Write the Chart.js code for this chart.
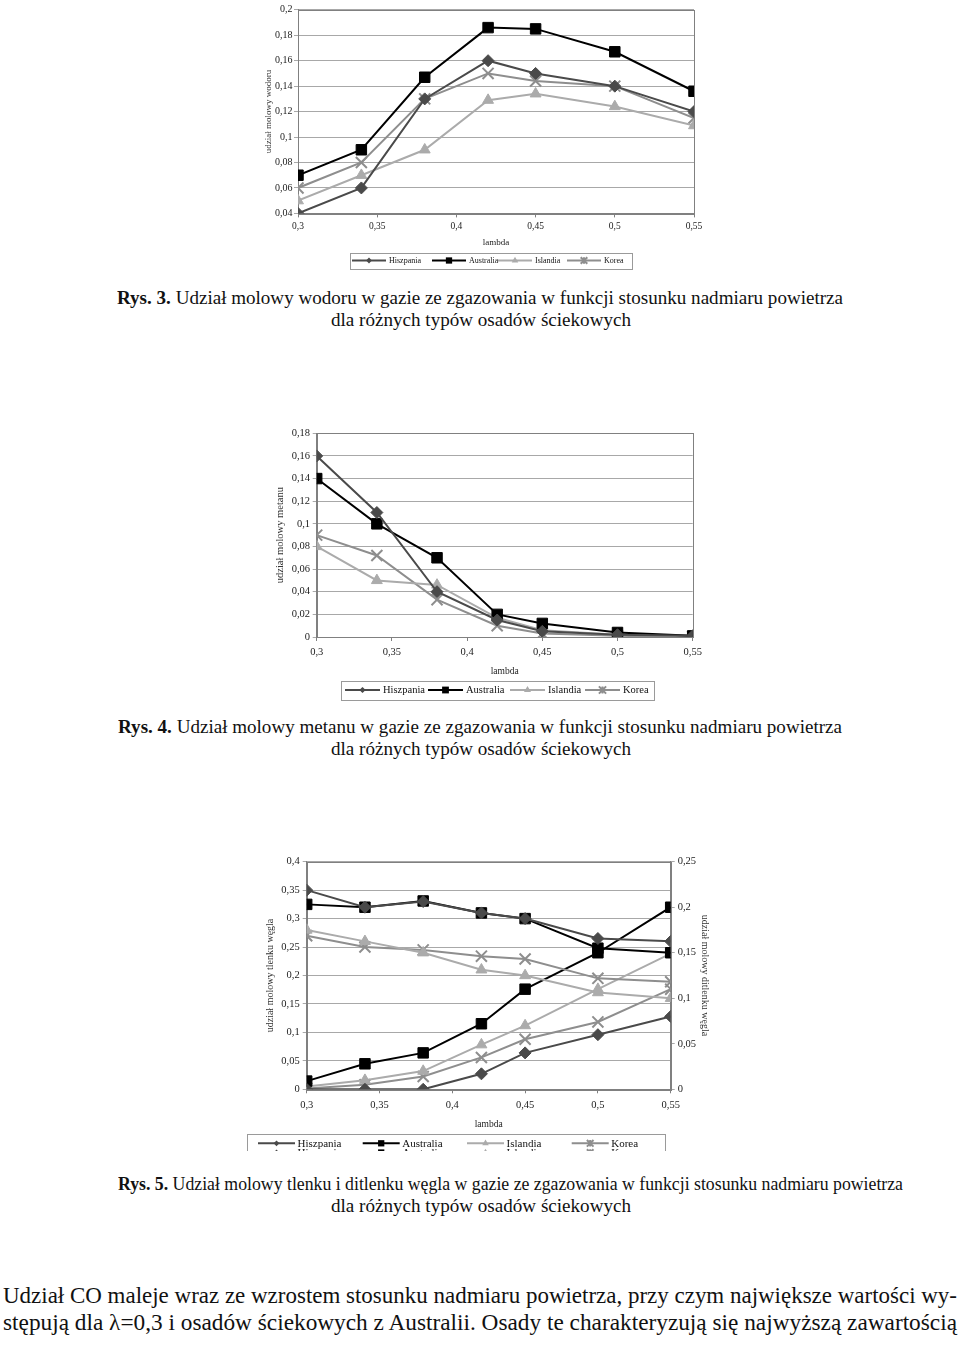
<!DOCTYPE html>
<html>
<head>
<meta charset="utf-8">
<script src="https://cdn.jsdelivr.net/npm/chart.js@4.4.1/dist/chart.umd.min.js"></script>
<style>
  html, body { margin:0; padding:0; background:#fff; }
  body { width:960px; height:1345px; position:relative; overflow:hidden; font-family:'Liberation Serif','Times New Roman',serif; color:#111; }
  canvas { position:absolute; }
  .txt { position:absolute; white-space:nowrap; transform-origin:0 50%; line-height:1; }
  .cap { font-size:19px; }
  .body { font-size:23px; }
</style>
</head>
<body>
<canvas id="c1" width="520" height="275" style="left:240px;top:0px;"></canvas>
<canvas id="c2" width="520" height="285" style="left:240px;top:420px;"></canvas>
<canvas id="c3" width="500" height="301" style="left:230px;top:850px;"></canvas>

<div class="txt cap" data-l="117" data-r="843" data-b="303.7"><b>Rys. 3.</b> Udział molowy wodoru w gazie ze zgazowania w funkcji stosunku nadmiaru powietrza</div>
<div class="txt cap" data-l="331" data-r="631" data-b="326">dla różnych typów osadów ściekowych</div>
<div class="txt cap" data-l="118" data-r="842" data-b="732.5"><b>Rys. 4.</b> Udział molowy metanu w gazie ze zgazowania w funkcji stosunku nadmiaru powietrza</div>
<div class="txt cap" data-l="331" data-r="631" data-b="754.5">dla różnych typów osadów ściekowych</div>
<div class="txt cap" data-l="118" data-r="903" data-b="1189.5"><b>Rys. 5.</b> Udział molowy tlenku i ditlenku węgla w gazie ze zgazowania w funkcji stosunku nadmiaru powietrza</div>
<div class="txt cap" data-l="331" data-r="631" data-b="1211.5">dla różnych typów osadów ściekowych</div>
<div class="txt body" data-l="3" data-r="957" data-b="1303.5">Udział CO maleje wraz ze wzrostem stosunku nadmiaru powietrza, przy czym największe wartości wy-</div>
<div class="txt body" data-l="3" data-r="957" data-b="1330">stępują dla λ=0,3 i osadów ściekowych z Australii. Osady te charakteryzują się najwyższą zawartością</div>

<script>
// ---------- DATA ----------
const lambdaValues = [0.3, 0.34, 0.38, 0.42, 0.45, 0.5, 0.55];
const xTickValues = [0.3, 0.35, 0.4, 0.45, 0.5, 0.55];
const seriesNames = ['Hiszpania', 'Australia', 'Islandia', 'Korea'];

// Rys. 3 - wodór (H2)
const h2Hiszpania = [0.04, 0.06, 0.13, 0.16, 0.15, 0.14, 0.12];
const h2Australia = [0.07, 0.09, 0.147, 0.186, 0.185, 0.167, 0.136];
const h2Islandia  = [0.05, 0.07, 0.09, 0.129, 0.134, 0.124, 0.109];
const h2Korea     = [0.06, 0.08, 0.13, 0.15, 0.144, 0.14, 0.115];

// Rys. 4 - metan (CH4)
const ch4Hiszpania = [0.16, 0.11, 0.04, 0.015, 0.005, 0.002, 0.001];
const ch4Australia = [0.14, 0.10, 0.07, 0.02, 0.012, 0.004, 0.001];
const ch4Islandia  = [0.08, 0.05, 0.046, 0.017, 0.006, 0.002, 0.001];
const ch4Korea     = [0.09, 0.072, 0.033, 0.01, 0.003, 0.001, 0.0003];

// Rys. 5 - tlenek węgla (CO, lewa oś)
const coHiszpania = [0.35, 0.32, 0.33, 0.31, 0.30, 0.265, 0.26];
const coAustralia = [0.325, 0.32, 0.331, 0.31, 0.30, 0.248, 0.24];
const coIslandia  = [0.28, 0.26, 0.24, 0.21, 0.20, 0.17, 0.16];
const coKorea     = [0.27, 0.25, 0.245, 0.234, 0.229, 0.195, 0.189];
// Rys. 5 - ditlenek węgla (CO2, prawa oś)
const co2Hiszpania = [0, 0, 0, 0.017, 0.040, 0.060, 0.080];
const co2Australia = [0.009, 0.028, 0.040, 0.072, 0.110, 0.150, 0.200];
const co2Islandia  = [0.003, 0.010, 0.020, 0.049, 0.070, 0.110, 0.149];
const co2Korea     = [0.001, 0.005, 0.014, 0.035, 0.055, 0.074, 0.110];

// ---------- STYLE ----------
const FONT = "'Liberation Serif','Times New Roman',serif";
const seriesStyle = [
  { color:'#4a4a4a', pointStyle:'rectRot',  r:6 },
  { color:'#000000', pointStyle:'rect',     r:7.4 },
  { color:'#ababab', pointStyle:'triangle', r:6.3 },
  { color:'#8e8e8e', pointStyle:'crossRot', r:7.8 }
];
const GRID = '#a8a8a8';
const AXIS = '#808080';

function fmt(v){ return String(+(+v).toFixed(4)).replace('.', ','); }
function pts(arr){ return lambdaValues.map((x,i)=>({x:x, y:arr[i]})); }

function makeDs(arr, i, axisId){
  const s = seriesStyle[i];
  return {
    label: seriesNames[i], data: pts(arr), yAxisID: axisId || 'y',
    borderColor: s.color, backgroundColor: s.color,
    borderWidth: 2, pointStyle: s.pointStyle, pointRadius: s.r, pointHoverRadius: s.r,
    pointBackgroundColor: s.color, pointBorderColor: s.color,
    pointBorderWidth: s.pointStyle === 'crossRot' ? 2 : 1, tension: 0
  };
}

function drawMarker(ctx, style, x, y, r){
  ctx.beginPath();
  if (style === 'rect'){ const h = r*Math.SQRT1_2; ctx.rect(x-h, y-h, 2*h, 2*h); ctx.fill(); }
  else if (style === 'rectRot'){ const h = r*0.8; ctx.moveTo(x, y-h); ctx.lineTo(x+h, y); ctx.lineTo(x, y+h); ctx.lineTo(x-h, y); ctx.closePath(); ctx.fill(); }
  else if (style === 'triangle'){ ctx.moveTo(x, y-r); ctx.lineTo(x+r*0.866, y+r*0.5); ctx.lineTo(x-r*0.866, y+r*0.5); ctx.closePath(); ctx.fill(); }
  else { const h = r*Math.SQRT1_2; ctx.moveTo(x-h,y-h); ctx.lineTo(x+h,y+h); ctx.moveTo(x+h,y-h); ctx.lineTo(x-h,y+h); ctx.moveTo(x,y-h); ctx.lineTo(x,y+h); ctx.stroke(); }
}

const framePlugin = {
  id:'frame',
  beforeDatasetsDraw(chart){
    const a = chart.chartArea, ctx = chart.ctx;
    ctx.save(); ctx.strokeStyle = AXIS; ctx.lineWidth = 1;
    ctx.strokeRect(Math.round(a.left)+0.5, Math.round(a.top)+0.5, Math.round(a.right-a.left), Math.round(a.bottom-a.top));
    ctx.restore();
  }
};

const legendPlugin = {
  id:'boxLegend',
  afterDraw(chart, args, o){
    if (!o || !o.box) return;
    const ctx = chart.ctx;
    ctx.save();
    ctx.strokeStyle = '#9a9a9a'; ctx.lineWidth = 1;
    ctx.strokeRect(Math.round(o.box[0])+0.5, Math.round(o.box[1])+0.5, Math.round(o.box[2]), Math.round(o.box[3]));
    ctx.font = o.font; ctx.textBaseline = 'middle';
    o.rows.forEach(row => {
      row.ds.forEach((di, k) => {
        const ds = chart.data.datasets[di];
        const x0 = o.starts[k], x1 = x0 + o.lineLen, y = row.y;
        ctx.strokeStyle = ds.borderColor; ctx.lineWidth = ds.borderWidth;
        ctx.beginPath(); ctx.moveTo(x0, y); ctx.lineTo(x1, y); ctx.stroke();
        ctx.fillStyle = ds.pointBackgroundColor; ctx.strokeStyle = ds.pointBorderColor;
        ctx.lineWidth = ds.pointBorderWidth;
        drawMarker(ctx, ds.pointStyle, (x0+x1)/2, y, ds.pointRadius*o.markerScale);
        ctx.fillStyle = '#111';
        ctx.fillText(ds.label, x1 + o.textGap, y + 0.5);
      });
    });
    ctx.restore();
  }
};

function xAxis(cfg){
  return {
    type:'linear', position:'bottom', min:0.3, max:0.55,
    afterBuildTicks: s => { s.ticks = xTickValues.map(v => ({value:v})); },
    afterFit: s => { s.height = cfg.height; },
    grid: { display:true, drawOnChartArea:false, drawTicks:true, tickLength:4, color:AXIS },
    border: { display:true, color:AXIS },
    ticks: { callback: fmt, padding: cfg.pad, color:'#222', font:{family:FONT, size:cfg.font}, maxRotation:0, autoSkip:false },
    title: { display:true, text:'lambda', color:'#222', font:{family:FONT, size:cfg.titleFont}, padding:{top:0, bottom:cfg.titlePad} }
  };
}
function yAxis(cfg){
  return {
    type:'linear', position: cfg.position || 'left', min: cfg.min, max: cfg.max,
    afterBuildTicks: s => { const t=[]; for (let v=cfg.min; v<=cfg.max+1e-9; v+=cfg.step) t.push({value:+v.toFixed(4)}); s.ticks = t; },
    afterFit: s => { s.width = cfg.width; },
    grid: { display:true, drawOnChartArea: cfg.grid !== false, drawTicks:true, tickLength:4, color: GRID },
    border: { display:true, color:AXIS },
    ticks: { callback: fmt, padding: cfg.pad, color:'#222', font:{family:FONT, size:cfg.font}, autoSkip:false },
    title: { display:true, text: cfg.title, color:'#333', font:{family:FONT, size:cfg.titleFont}, padding:{top:cfg.titlePad, bottom:cfg.titlePad} }
  };
}

const common = { responsive:false, animation:false, devicePixelRatio:1, events:[] };

// ---------- Rys. 3 ----------
new Chart(document.getElementById('c1'), {
  type:'line',
  data:{ datasets:[ makeDs(h2Hiszpania,0), makeDs(h2Australia,1), makeDs(h2Islandia,2), makeDs(h2Korea,3) ] },
  options: Object.assign({}, common, {
    layout:{ padding:{ left:0, right:66, top:5, bottom:26.6 } },
    scales:{
      x: xAxis({height:35, pad:3.7, font:9.5, titleFont:9, titlePad:0}),
      y: yAxis({min:0.04, max:0.2, step:0.02, width:58, pad:1.5, font:10, title:'udział molowy wodoru', titleFont:9, titlePad:23.6})
    },
    plugins:{ legend:{display:false}, tooltip:{enabled:false},
      boxLegend:{ box:[110, 253, 282, 16], font:"8px "+FONT, lineLen:34, textGap:3, markerScale:0.6,
        starts:[112, 192, 258, 327], rows:[{y:260.5, ds:[0,1,2,3]}] } }
  }),
  plugins:[framePlugin, legendPlugin]
});

// ---------- Rys. 4 ----------
new Chart(document.getElementById('c2'), {
  type:'line',
  data:{ datasets:[ makeDs(ch4Hiszpania,0), makeDs(ch4Australia,1), makeDs(ch4Islandia,2), makeDs(ch4Korea,3) ] },
  options: Object.assign({}, common, {
    layout:{ padding:{ left:0, right:67.3, top:13.3, bottom:28.3 } },
    scales:{
      x: xAxis({height:39.7, pad:5.3, font:10.5, titleFont:9.5, titlePad:0}),
      y: yAxis({min:0, max:0.18, step:0.02, width:76.7, pad:2.7, font:10.5, title:'udział molowy metanu', titleFont:10.5, titlePad:34.4})
    },
    plugins:{ legend:{display:false}, tooltip:{enabled:false},
      boxLegend:{ box:[101, 260.7, 313, 18.6], font:"10.5px "+FONT, lineLen:35, textGap:3, markerScale:0.65,
        starts:[105, 188, 270, 345], rows:[{y:270, ds:[0,1,2,3]}] } }
  }),
  plugins:[framePlugin, legendPlugin]
});

// ---------- Rys. 5 ----------
new Chart(document.getElementById('c3'), {
  type:'line',
  data:{ datasets:[
    makeDs(coHiszpania,0,'y'), makeDs(coAustralia,1,'y'), makeDs(coIslandia,2,'y'), makeDs(coKorea,3,'y'),
    makeDs(co2Hiszpania,0,'y1'), makeDs(co2Australia,1,'y1'), makeDs(co2Islandia,2,'y1'), makeDs(co2Korea,3,'y1')
  ] },
  options: Object.assign({}, common, {
    layout:{ padding:{ left:0, right:0, top:11.7, bottom:20.7 } },
    scales:{
      x: xAxis({height:41, pad:6, font:10.5, titleFont:9.5, titlePad:0}),
      y: yAxis({min:0, max:0.4, step:0.05, width:76.7, pad:3, font:10.5, title:'udział molowy tlenku węgla', titleFont:10, titlePad:34}),
      y1: yAxis({position:'right', min:0, max:0.25, step:0.05, width:59.3, pad:3, font:10.5, grid:false, title:'udział molowy ditlenku węgla', titleFont:10, titlePad:19})
    },
    plugins:{ legend:{display:false}, tooltip:{enabled:false},
      boxLegend:{ box:[16.7, 284.3, 418.3, 30], font:"11px "+FONT, lineLen:37, textGap:2.5, markerScale:0.6,
        starts:[28, 132.7, 237, 341.7], rows:[{y:293.3, ds:[0,1,2,3]}, {y:302.5, ds:[4,5,6,7]}] } }
  }),
  plugins:[framePlugin, legendPlugin]
});

// ---------- text placement (by baseline) ----------
document.querySelectorAll('.txt').forEach(el => {
  const l = +el.dataset.l, r = +el.dataset.r, b = +el.dataset.b;
  const fs = parseFloat(getComputedStyle(el).fontSize);
  el.style.left = l + 'px';
  el.style.top = (b - 0.8375 * fs) + 'px';
  const w = el.getBoundingClientRect().width;
  el.style.transform = 'scaleX(' + ((r - l) / w) + ')';
});
</script>
</body>
</html>
